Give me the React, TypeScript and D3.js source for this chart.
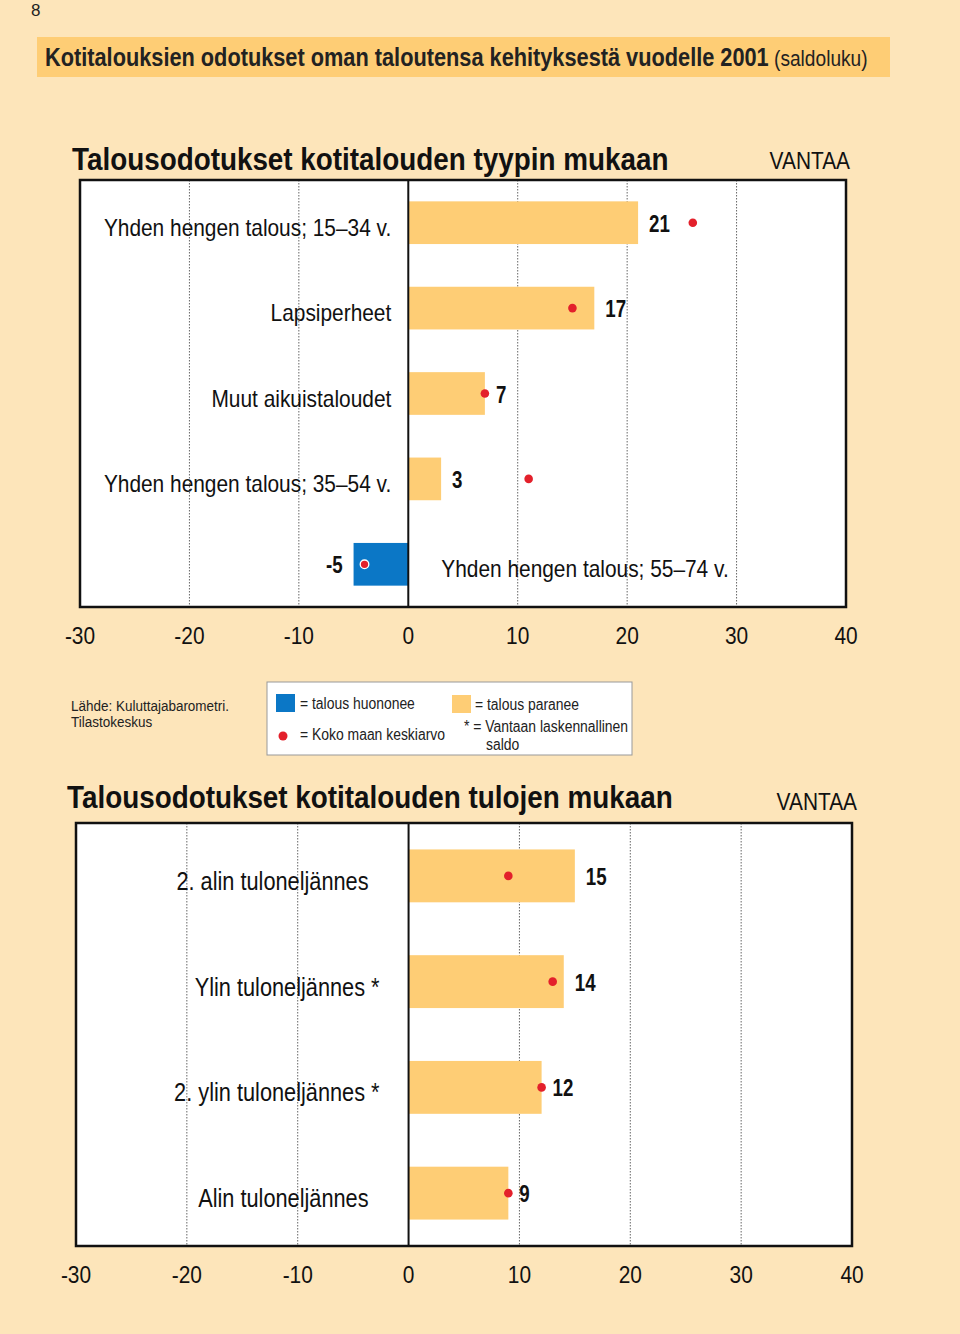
import React from "react";
import * as d3 from "d3";

const typeCategories = [
  "Yhden hengen talous; 15–34 v.",
  "Lapsiperheet",
  "Muut aikuistaloudet",
  "Yhden hengen talous; 35–54 v.",
  "Yhden hengen talous; 55–74 v.",
];
const typeValues = [21, 17, 7, 3, -5];
const typeNational = [26, 15, 7, 11, -4];

const incomeCategories = [
  "2. alin tuloneljännes",
  "Ylin tuloneljännes *",
  "2. ylin tuloneljännes *",
  "Alin tuloneljännes",
];
const incomeValues = [15, 14, 12, 9];
const incomeNational = [9, 13, 12, 9];

const xTicks = [-30, -20, -10, 0, 10, 20, 30, 40];
const gridTicks = [-20, -10, 10, 20, 30];

const FONT = "'Liberation Sans', Arial, Helvetica, sans-serif";
const SX = 0.87;
const BG = "#FDE5BA";
const ORANGE = "#FECD75";
const BLUE = "#0B77C6";
const RED = "#E3202B";
const INK = "#111";

type TProps = {
  x: number; y: number; size: number; bold?: boolean; anchor?: "start" | "middle" | "end";
  sx?: number; fill?: string; children: React.ReactNode;
};
function T({ x, y, size, bold, anchor = "start", sx = SX, fill = INK, children }: TProps) {
  return (
    <text transform={`translate(${x},${y}) scale(${sx},1)`} textAnchor={anchor}
      fontFamily={FONT} fontSize={size} fontWeight={bold ? "bold" : "normal"} fill={fill}>
      {children}
    </text>
  );
}

type PanelProps = {
  left: number; right: number; top: number; bottom: number;
  cats: string[]; values: number[]; national: number[];
  title: string; titleX: number; titleY: number; vantaaX: number; vantaaY: number;
  tickY: number; labelSize: number; labelGap: number; labelDy: number;
};

function Panel(p: PanelProps) {
  const x = d3.scaleLinear().domain([-30, 40]).range([p.left, p.right]);
  const y = d3.scaleBand<number>().domain(d3.range(p.cats.length)).range([p.top, p.bottom])
    .paddingInner(0.5).paddingOuter(0.25);
  const x0 = x(0);
  return (
    <g>
      <T x={p.titleX} y={p.titleY} size={32} bold>{p.title}</T>
      <T x={p.vantaaX} y={p.vantaaY} size={24} anchor="end">VANTAA</T>
      <rect x={p.left} y={p.top} width={p.right - p.left} height={p.bottom - p.top} fill="#fff" />
      {gridTicks.map((t) => (
        <line key={t} x1={x(t)} x2={x(t)} y1={p.top} y2={p.bottom} stroke="#666" strokeWidth={1} strokeDasharray="1.5,1.5" />
      ))}
      {p.values.map((v, i) => {
        const by = y(i)!;
        const bh = y.bandwidth();
        const cy = by + bh / 2;
        const star = p.cats[i].endsWith("*");
        return (
          <g key={i}>
            <rect x={Math.min(x(v), x0)} y={by} width={Math.abs(x(v) - x0)} height={bh} fill={v < 0 ? BLUE : ORANGE} />
            <circle cx={x(p.national[i])} cy={cy} r={4.3} fill={RED} stroke={v < 0 ? "#fff" : "none"} strokeWidth={1.3} />
            <T x={v < 0 ? x(v) - 11 : x(v) + 11} y={cy + 9} size={24} bold sx={0.78} anchor={v < 0 ? "end" : "start"}>{v}</T>
            {v < 0 ? (
              <T x={x0 + 33} y={cy + p.labelDy} size={p.labelSize}>{p.cats[i]}</T>
            ) : (
              <T x={x0 - p.labelGap + (star ? 11 : 0)} y={cy + p.labelDy} size={p.labelSize} anchor="end">{p.cats[i]}</T>
            )}
          </g>
        );
      })}
      <line x1={x0} x2={x0} y1={p.top} y2={p.bottom} stroke={INK} strokeWidth={2} />
      <rect x={p.left} y={p.top} width={p.right - p.left} height={p.bottom - p.top} fill="none" stroke={INK} strokeWidth={2.5} />
      {xTicks.map((t) => (
        <T key={t} x={x(t)} y={p.tickY} size={24} anchor="middle">{t}</T>
      ))}
    </g>
  );
}

export default function App() {
  return (
    <div style={{ position: "absolute", left: 0, top: 0 }}>
      <svg width={960} height={1334} style={{ display: "block", background: BG }}>
        <rect width={960} height={1334} fill={BG} />
        <T x={31} y={16} size={17} sx={1} fill="#222">8</T>
        <rect x={37} y={37} width={853} height={40} fill={ORANGE} />
        <text transform={`translate(45,66) scale(${SX},1)`} fontFamily={FONT} fill="#222">
          <tspan fontWeight="bold" fontSize={25}>Kotitalouksien odotukset oman taloutensa kehityksestä vuodelle 2001</tspan>
          <tspan fontSize={22}> (saldoluku)</tspan>
        </text>

        <Panel left={80} right={846} top={180} bottom={607}
          cats={typeCategories} values={typeValues} national={typeNational}
          title="Talousodotukset kotitalouden tyypin mukaan" titleX={72} titleY={170}
          vantaaX={850} vantaaY={169} tickY={644} labelSize={24} labelGap={17} labelDy={13} />

        <T x={71} y={711} size={15.5} fill="#222">Lähde: Kuluttajabarometri.</T>
        <T x={71} y={727} size={15.5} fill="#222">Tilastokeskus</T>
        <rect x={267} y={682} width={365} height={73} fill="#fff" stroke="#999" strokeWidth={1} />
        <rect x={276} y={694} width={19} height={18} fill={BLUE} />
        <T x={300} y={709} size={16} fill="#222">= talous huononee</T>
        <rect x={452} y={695} width={19} height={18} fill={ORANGE} />
        <T x={475} y={710} size={16} fill="#222">= talous paranee</T>
        <circle cx={283} cy={736} r={4.5} fill={RED} />
        <T x={300} y={740} size={16} fill="#222">= Koko maan keskiarvo</T>
        <T x={464} y={732} size={16} fill="#222">* = Vantaan laskennallinen</T>
        <T x={486} y={750} size={16} fill="#222">saldo</T>

        <Panel left={76} right={852} top={823} bottom={1246}
          cats={incomeCategories} values={incomeValues} national={incomeNational}
          title="Talousodotukset kotitalouden tulojen mukaan" titleX={67} titleY={808}
          vantaaX={857} vantaaY={810} tickY={1283} labelSize={25} labelGap={40} labelDy={14} />
      </svg>
    </div>
  );
}
